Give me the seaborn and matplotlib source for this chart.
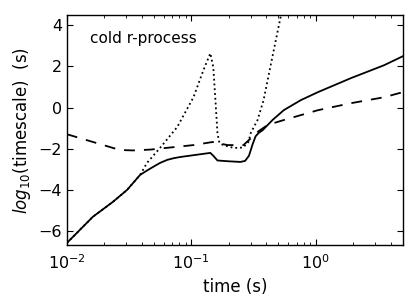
import numpy as np
import pandas as pd
import seaborn as sns
import matplotlib.pyplot as plt

# time (s) and log10(timescale)
t_solid = [0.010, 0.0162, 0.0235, 0.0305, 0.0388, 0.044, 0.0494, 0.056, 0.064,
           0.072, 0.0815, 0.142, 0.150, 0.162, 0.200, 0.248, 0.270, 0.290, 0.31,
           0.328, 0.347, 0.374, 0.45, 0.552, 0.757, 1.04, 1.91, 3.53, 5.0]
y_solid = [-6.6, -5.32, -4.59, -4.01, -3.28, -3.07, -2.89, -2.7, -2.55,
           -2.47, -2.41, -2.21, -2.35, -2.58, -2.62, -2.65, -2.6, -2.35, -1.8,
           -1.4, -1.24, -1.10, -0.6, -0.13, 0.36, 0.75, 1.43, 2.06, 2.50]

t_dashed = [0.010, 0.0267, 0.034, 0.0468, 0.056, 0.104, 0.148, 0.16, 0.195,
            0.262, 0.30, 0.347, 0.41, 0.552, 1.04, 1.91, 3.53, 5.0]
y_dashed = [-1.3, -2.07, -2.09, -2.05, -2.0, -1.83, -1.68, -1.72, -1.83,
            -1.83, -1.5, -1.15, -0.85, -0.61, -0.13, 0.21, 0.50, 0.75]

t_dotted = [0.010, 0.0162, 0.0235, 0.0305, 0.0388, 0.044, 0.056, 0.077, 0.104,
            0.125, 0.142, 0.150, 0.156, 0.162, 0.168, 0.180, 0.219, 0.26, 0.287,
            0.30, 0.34, 0.38, 0.43, 0.47, 0.52, 0.56]
y_dotted = [-6.6, -5.32, -4.59, -4.01, -3.28, -2.7, -1.97, -0.95, 0.50,
            1.82, 2.64, 1.96, 0.36, -1.24, -1.73, -1.83, -1.97, -1.95, -1.68,
            -1.24, -0.61, 0.36, 1.96, 3.1, 4.39, 5.2]

sns.set_style("ticks", {
    "xtick.direction": "in",
    "ytick.direction": "in",
    "xtick.top": True,
    "ytick.right": True,
    "axes.edgecolor": "black",
    "axes.labelcolor": "black",
    "text.color": "black",
    "xtick.color": "black",
    "ytick.color": "black",
})
plt.rcParams["font.family"] = ["DejaVu Sans"]

fig = plt.figure(figsize=(4.15, 2.96), dpi=100)
ax = fig.add_axes([0.161, 0.172, 0.810, 0.777])

df_s = pd.DataFrame({"t": t_solid, "y": y_solid})
df_d = pd.DataFrame({"t": t_dashed, "y": y_dashed})
df_o = pd.DataFrame({"t": t_dotted, "y": y_dotted})

sns.lineplot(data=df_o, x="t", y="y", ax=ax, color="black", linestyle=":",
             linewidth=1.3, sort=False, estimator=None)
sns.lineplot(data=df_d, x="t", y="y", ax=ax, color="black", linestyle=(0, (6, 5)),
             linewidth=1.3, sort=False, estimator=None)
sns.lineplot(data=df_s, x="t", y="y", ax=ax, color="black", linestyle="-",
             linewidth=1.3, sort=False, estimator=None)

ax.set_xscale("log")
ax.set_xlim(0.01, 5.0)
ax.set_ylim(-6.7, 4.5)
ax.set_yticks([-6, -4, -2, 0, 2, 4])
ax.tick_params(which="major", length=4, labelsize=11.5, width=0.8)
ax.tick_params(which="minor", length=2, width=0.6)
ax.tick_params(axis="x", pad=6)
for s in ax.spines.values():
    s.set_linewidth(1.0)

ax.set_xlabel("time (s)", fontsize=12)
ax.set_ylabel(r"$log_{10}$(timescale)  (s)", fontsize=12)
ax.text(0.068, 0.90, "cold r-process", transform=ax.transAxes,
        fontsize=11, ha="left", va="center")

fig.savefig("out.png", dpi=100)
